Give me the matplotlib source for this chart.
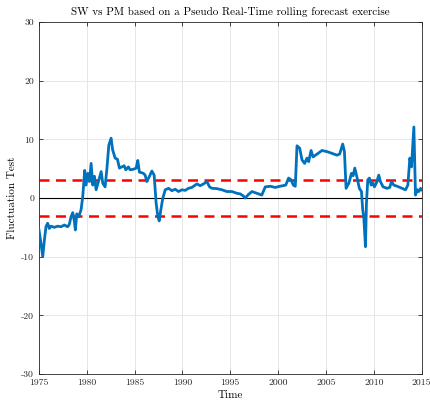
import matplotlib
matplotlib.use("Agg")
import matplotlib.pyplot as plt

plt.rcParams['font.family'] = ['cmr10', 'DejaVu Serif']
plt.rcParams['mathtext.fontset'] = 'cm'
plt.rcParams['axes.unicode_minus'] = False
plt.rcParams['axes.formatter.use_mathtext'] = False

# Time points (years) and fluctuation test values
time = [1975.0, 1975.2, 1975.39, 1975.56, 1975.73, 1975.9, 1976.08, 1976.26, 1976.6,
        1976.96, 1977.3, 1977.65, 1978.0, 1978.17, 1978.35, 1978.53, 1978.7, 1978.8,
        1978.95, 1979.15, 1979.4, 1979.57, 1979.68, 1979.78, 1979.92, 1980.1, 1980.28,
        1980.45, 1980.62, 1980.8, 1980.97, 1981.25, 1981.5, 1981.67, 1981.91, 1982.09,
        1982.3, 1982.54, 1982.7, 1982.96, 1983.2, 1983.41, 1983.66, 1983.9, 1984.08,
        1984.35, 1984.53, 1984.88, 1985.16, 1985.33, 1985.5, 1985.75, 1985.92, 1986.1,
        1986.27, 1986.52, 1986.8, 1987.04, 1987.25, 1987.43, 1987.57, 1987.74, 1987.95,
        1988.2, 1988.54, 1988.9, 1989.24, 1989.59, 1989.94, 1990.29, 1990.63, 1990.99,
        1991.51, 1991.86, 1992.2, 1992.56, 1992.83, 1993.08, 1993.6, 1994.13, 1994.65,
        1995.18, 1995.7, 1996.05, 1996.4, 1996.57, 1996.9, 1997.27, 1997.8, 1998.3,
        1998.66, 1999.2, 1999.7, 2000.2, 2000.8, 2001.1, 2001.35, 2001.6, 2001.8,
        2001.98, 2002.26, 2002.5, 2002.78, 2003.02, 2003.2, 2003.45, 2003.66, 2004.08,
        2004.6, 2005.13, 2005.65, 2006.17, 2006.44, 2006.76, 2006.94, 2007.11, 2007.39,
        2007.5, 2007.67, 2007.85, 2008.02, 2008.27, 2008.5, 2008.72, 2008.85, 2008.96,
        2009.14, 2009.24, 2009.38, 2009.55, 2009.73, 2009.9, 2010.08, 2010.29, 2010.53,
        2010.7, 2010.98, 2011.4, 2011.68, 2011.86, 2012.1, 2012.45, 2012.98, 2013.33,
        2013.57, 2013.78, 2013.95, 2014.2, 2014.37, 2014.55, 2014.72, 2014.9, 2015.0]
fluct = [-5.45, -7.7, -10.0, -7.2, -4.9, -4.3, -5.2, -4.8, -5.0,
         -4.8, -4.9, -4.6, -4.9, -4.5, -3.2, -2.5, -4.0, -5.45,
         -2.7, -3.2, -2.0, 0.2, 2.5, 4.7, 2.2, 4.2, 2.8,
         5.9, 2.2, 3.7, 1.4, 3.0, 4.5, 2.5, 1.9, 4.8,
         9.0, 10.2, 8.2, 6.8, 6.6, 5.1, 5.3, 5.5, 4.8,
         5.3, 4.8, 4.9, 5.1, 6.4, 4.4, 4.3, 4.2, 3.9,
         2.8, 3.6, 4.6, 3.9, -0.9, -3.2, -3.9, -2.0, 0.0,
         1.4, 1.65, 1.25, 1.5, 1.1, 1.4, 1.3, 1.65, 1.8,
         2.4, 2.1, 2.4, 2.8, 1.9, 1.65, 1.6, 1.4, 1.1,
         1.1, 0.8, 0.7, 0.3, 0.0, 0.6, 1.1, 0.8, 0.5,
         1.9, 2.0, 1.8, 2.0, 2.2, 3.4, 3.1, 2.2, 2.0,
         8.9, 8.5, 6.5, 5.9, 6.8, 6.2, 8.1, 7.0, 7.5,
         8.1, 7.9, 7.6, 7.3, 7.5, 9.2, 7.9, 1.65, 2.5,
         3.1, 4.2, 3.8, 5.1, 3.4, 1.65, 1.1, -2.0, -3.2,
         -8.3, -0.9, 3.1, 3.4, 2.2, 2.6, 1.9, 2.6, 3.9,
         2.8, 1.9, 1.65, 1.8, 2.8, 2.2, 2.0, 1.65, 1.4,
         2.2, 6.8, 5.3, 12.1, 0.5, 1.4, 1.1, 1.65, 1.4]

crit_value = 3.13
x_ticks = [1975, 1980, 1985, 1990, 1995, 2000, 2005, 2010, 2015]
y_ticks = [-30, -20, -10, 0, 10, 20, 30]

fig = plt.figure(figsize=(4.31, 4.05), dpi=100)
ax = fig.add_axes([0.0905, 0.0765, 0.8875, 0.8692])

ax.plot(time, fluct, color='#0072BD', linewidth=2.0, zorder=3)
ax.axhline(crit_value, color='#FF0000', linestyle=(0, (4, 2.6)), linewidth=1.8, zorder=2)
ax.axhline(-crit_value, color='#FF0000', linestyle=(0, (4, 2.6)), linewidth=1.8, zorder=2)
ax.axhline(0, color='black', linewidth=0.8, zorder=2)

ax.set_xlim(1975, 2015)
ax.set_ylim(-30, 30)
ax.set_xticks(x_ticks)
ax.set_yticks(y_ticks)
ax.grid(True, color='#E3E3E3', linewidth=0.6)
ax.set_axisbelow(True)
ax.tick_params(direction='in', length=3, width=0.6, labelsize=7, colors='#262626',
               top=True, right=True)
for s in ax.spines.values():
    s.set_color('#262626')
    s.set_linewidth(0.6)

ax.set_title('SW vs PM based on a Pseudo Real-Time rolling forecast exercise',
             fontsize=8, pad=5)
ax.set_xlabel('Time', fontsize=8, labelpad=2)
ax.set_ylabel('Fluctuation Test', fontsize=8, labelpad=3)

fig.savefig('out.png', dpi=100)
